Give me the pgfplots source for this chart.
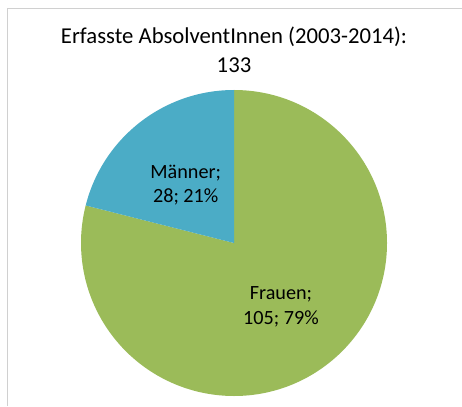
\documentclass[border=0pt]{standalone}
\usepackage{pgfplots}
\usepackage{pgfplotstable}
\pgfplotsset{compat=1.18}
\usepackage{fontspec}
\setmainfont{Carlito}
\definecolor{frauen}{HTML}{9BBB59}
\definecolor{maenner}{HTML}{4BACC6}
\definecolor{frame}{HTML}{D0D0D0}
\pgfplotstableread{
name value
Frauen 105
Maenner 28
}\piedata
\pgfplotstablegetelem{0}{value}\of\piedata\edef\vA{\pgfplotsretval}
\pgfplotstablegetelem{1}{value}\of\piedata\edef\vB{\pgfplotsretval}
\pgfmathsetmacro\total{\vA+\vB}
\pgfmathsetmacro\fracA{\vA/\total}
\pgfmathsetmacro\endA{90-360*\fracA}
\begin{document}%
\begin{tikzpicture}
\useasboundingbox (0,0) rectangle (462pt,-406pt);
\fill[white] (0,0) rectangle (462pt,-406pt);
\draw[frame, line width=1.2pt] (7.5pt,-406pt) -- (7.5pt,-8.5pt) -- (462pt,-8.5pt);
\begin{axis}[at={(234pt,-243pt)}, anchor=center, hide axis, scale only axis,
  width=306pt, height=306pt, xmin=-1, xmax=1, ymin=-1, ymax=1, clip=false]
\fill[frauen] (axis cs:0,0) -- (axis cs:0,1) arc[start angle=90, end angle=\endA, radius=153pt] -- cycle;
\fill[maenner] (axis cs:0,0) -- (axis cs:{cos(\endA)},{sin(\endA)}) arc[start angle=\endA, end angle=-270, radius=153pt] -- cycle;
\end{axis}
\begin{scope}[every node/.style={inner sep=0pt, anchor=base, text=black}]
\node[font=\fontsize{22.7}{27}\selectfont] at (234pt,-43.3pt) {Erfasste AbsolventInnen (2003-2014):};
\node[font=\fontsize{22.7}{27}\selectfont] at (234pt,-73pt) {133};
\node[font=\fontsize{20.2}{24}\selectfont] at (185.7pt,-178pt) {Männer;};
\node[font=\fontsize{20.2}{24}\selectfont] at (185.7pt,-202pt) {28; 21\%};
\node[font=\fontsize{20.2}{24}\selectfont] at (281pt,-299.3pt) {Frauen;};
\node[font=\fontsize{20.2}{24}\selectfont] at (281pt,-324pt) {105; 79\%};
\end{scope}
\end{tikzpicture}%
\end{document}
